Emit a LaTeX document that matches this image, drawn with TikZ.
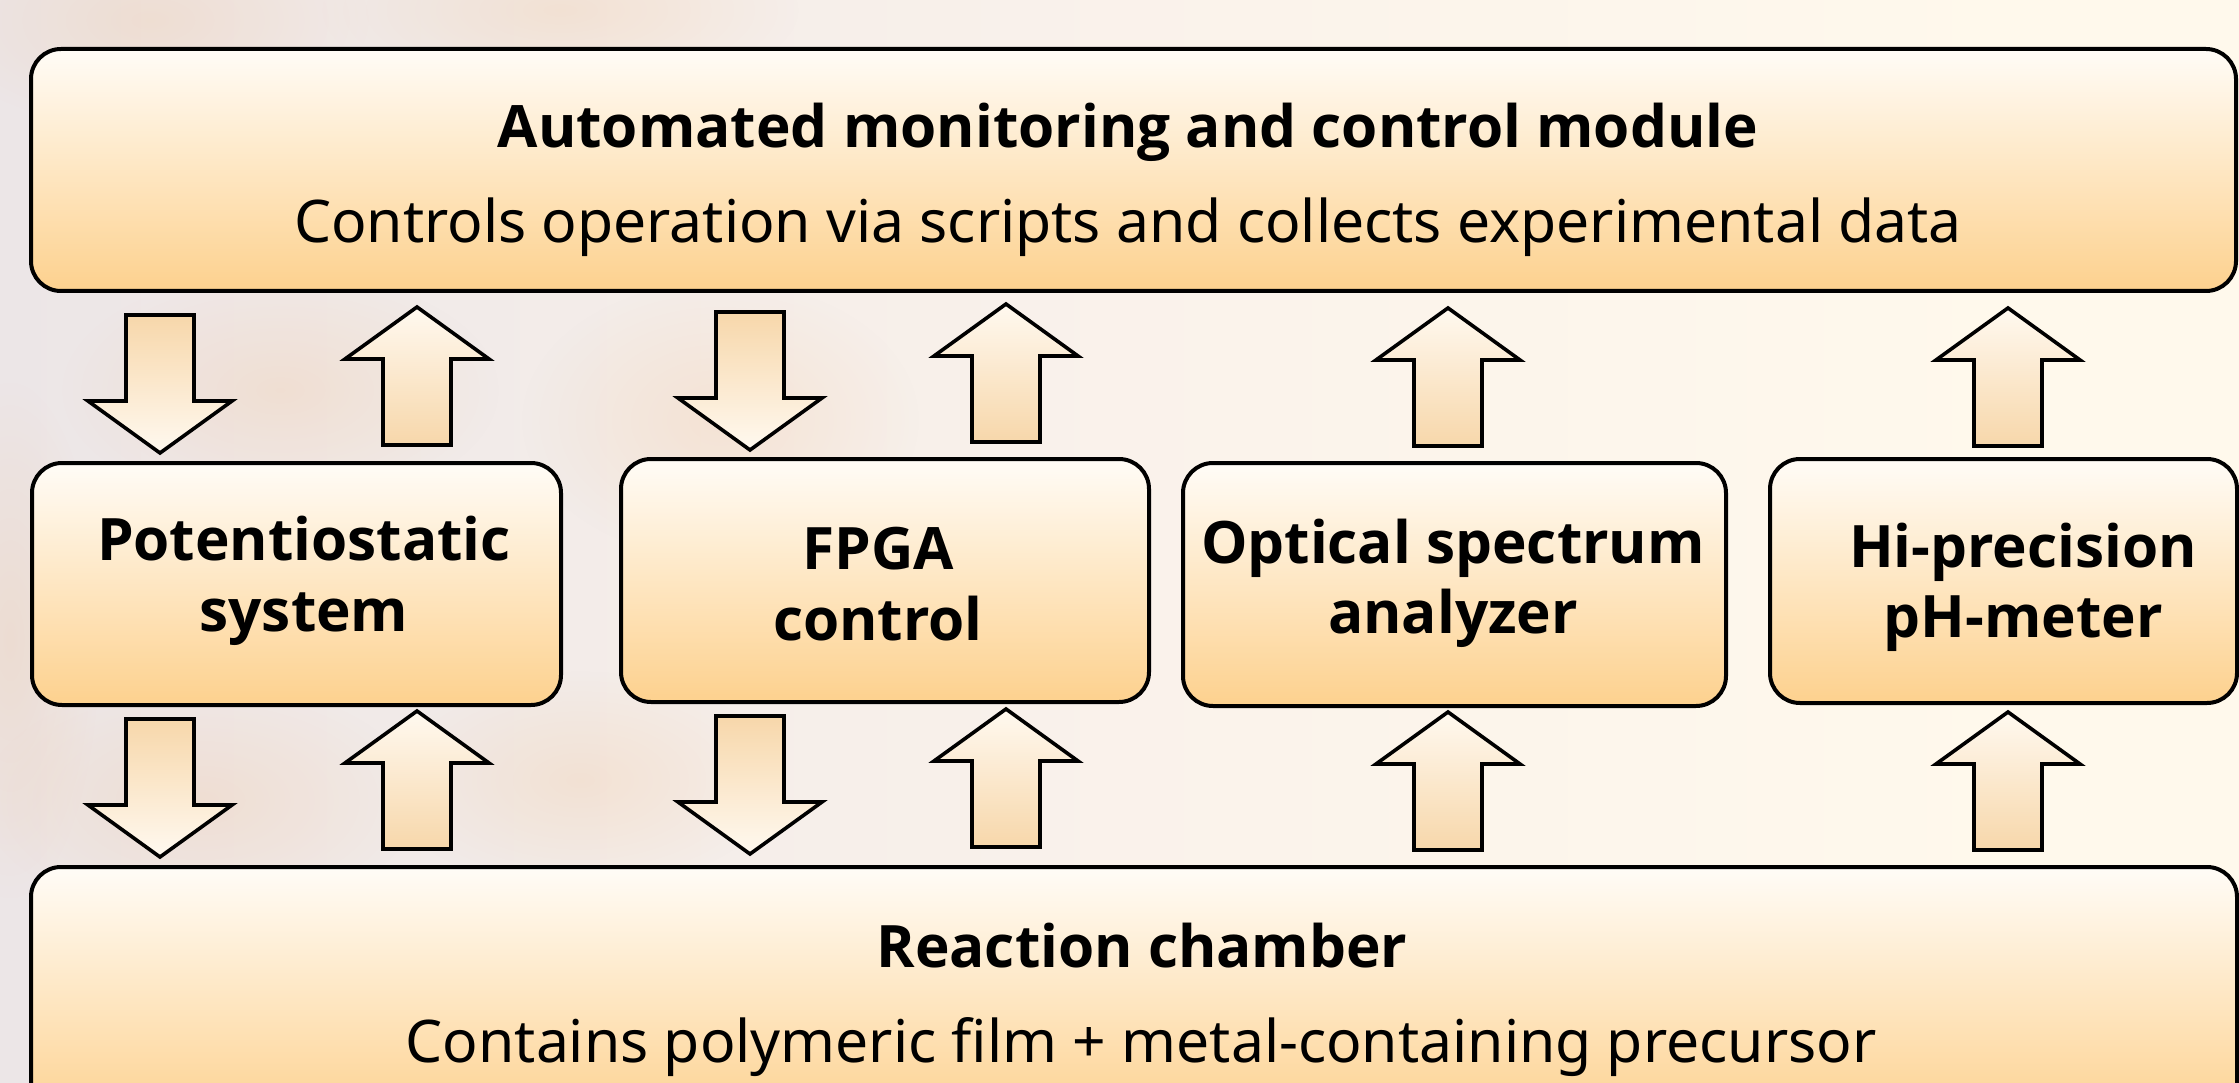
\documentclass[tikz,border=0pt]{standalone}
\usepackage{fontspec}
\setmainfont{Noto Sans}
\newfontfamily\headfamily{Open Sans}
\usetikzlibrary{fadings}

% palette
\definecolor{bgL}{RGB}{236,230,231}
\definecolor{bgM}{RGB}{250,242,235}
\definecolor{bgR}{RGB}{255,249,236}
\definecolor{boxtop}{RGB}{255,252,247}
\definecolor{boxbot}{RGB}{253,209,142}
\definecolor{arrdark}{RGB}{247,215,170}
\definecolor{arrlight}{RGB}{255,249,240}
\definecolor{blobA}{RGB}{240,175,110}

\pgfdeclarehorizontalshading{backdrop}{100bp}{color(0bp)=(bgL); color(25bp)=(bgL); color(50bp)=(bgM); color(70bp)=(bgR); color(100bp)=(bgR)}
\tikzfading[name=softblob, inner color=transparent!50, outer color=transparent!100]

\tikzset{
  panel/.style={draw=black, line width=4pt, rounded corners=30pt,
    top color=boxtop, bottom color=boxbot, inner sep=0pt},
  blkarrow/.style={draw=black, line width=3.6pt, line join=miter, miter limit=10},
  headtxt/.style={font=\headfamily\fontsize{58.5pt}{70pt}\selectfont\bfseries, anchor=base, inner sep=0pt},
  subtxt/.style={font=\fontsize{58.8pt}{68pt}\selectfont, anchor=base, inner sep=0pt},
  pics/dnarrow/.style={code={
    \draw[blkarrow, top color=arrdark, bottom color=arrlight]
      (-34,0) -- (34,0) -- (34,86) -- (72,86) -- (0,138) -- (-72,86) -- (-34,86) -- cycle;}},
  pics/uparrow/.style={code={
    \draw[blkarrow, top color=arrlight, bottom color=arrdark]
      (0,0) -- (72,52) -- (34,52) -- (34,138) -- (-34,138) -- (-34,52) -- (-72,52) -- cycle;}},
}

\begin{document}
\begin{tikzpicture}[x=1pt, y=-1pt]
\useasboundingbox (0,0) rectangle (2239,1083);

% blurred backdrop
\shade[shading=backdrop] (0,0) rectangle (2239,1083);
\foreach \bx/\by/\ra/\rb in {150/20/220/110, 560/10/240/90, 10/640/90/260, 280/390/220/120,
                             720/420/200/140, 200/800/220/120, 580/780/200/110}
  \fill[blobA, path fading=softblob, opacity=0.35] (\bx,\by) ellipse ({\ra} and {\rb});

% main blocks
\node[panel, minimum width=2205pt, minimum height=242pt] (ctrl) at (1133.5,170) {};
\node[panel, minimum width=529pt, minimum height=242pt] (pot)  at (296.5,584) {};
\node[panel, minimum width=528pt, minimum height=243pt] (fpga) at (885,580.5) {};
\node[panel, minimum width=543pt, minimum height=243pt] (osa)  at (1454.5,584.5) {};
\node[panel, minimum width=467pt, minimum height=244pt] (phm)  at (2003.5,581) {};
\node[panel, minimum width=2206pt, minimum height=260pt] (chamber) at (1134,997) {};

% labels
\node[headtxt] (ctrlT) at (1128,148) {Automated monitoring and control module};
\node[subtxt]  (ctrlS) at (1128,243) {Controls operation via scripts and collects experimental data};
\node[headtxt] (potA)  at (304,560) {Potentiostatic};
\node[headtxt] (potB)  at (304,631) {system};
\node[headtxt] (fpgaA) at (878,569) {FPGA};
\node[headtxt] (fpgaB) at (878,640) {control};
\node[headtxt] (osaA)  at (1453,563) {Optical spectrum};
\node[headtxt] (osaB)  at (1453,633) {analyzer};
\node[headtxt] (phmA)  at (2023,567) {Hi-precision};
\node[headtxt] (phmB)  at (2023,637) {pH-meter};
\node[headtxt] (chT)   at (1142,967) {Reaction chamber};
\node[subtxt]  (chS)   at (1141,1062) {Contains polymeric film + metal-containing precursor};

% block arrows between control module and instruments
\pic at (160,315)   {dnarrow};
\pic at (417,307)   {uparrow};
\pic at (750,312)   {dnarrow};
\pic at (1006,304)  {uparrow};
\pic at (1448,308)  {uparrow};
\pic at (2008,308)  {uparrow};

% block arrows between instruments and reaction chamber
\pic at (160,719)   {dnarrow};
\pic at (417,711)   {uparrow};
\pic at (750,716)   {dnarrow};
\pic at (1006,709)  {uparrow};
\pic at (1448,712)  {uparrow};
\pic at (2008,712)  {uparrow};
\end{tikzpicture}
\end{document}
